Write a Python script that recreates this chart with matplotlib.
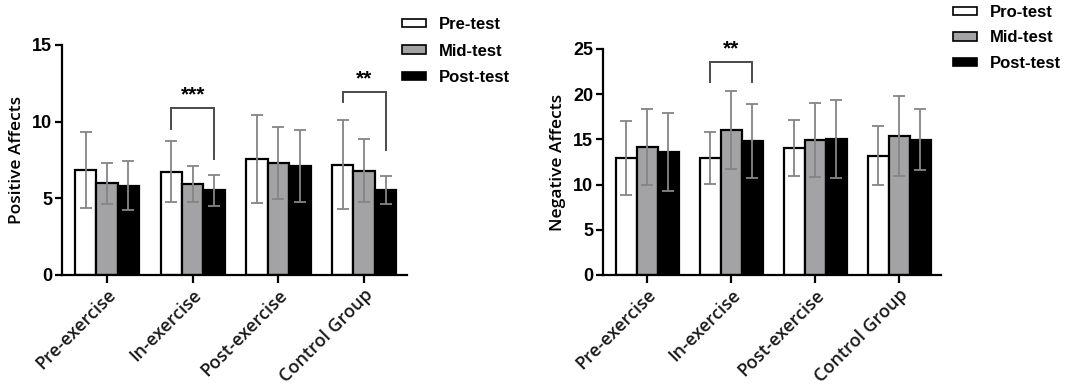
import matplotlib
matplotlib.use("Agg")
import matplotlib.pyplot as plt
import numpy as np
from matplotlib.patches import Patch

groups = ['Pre-exercise', 'In-exercise', 'Post-exercise', 'Control Group']

pos_pre = [6.85, 6.74, 7.54, 7.20]
pos_pre_sd = [2.50, 1.97, 2.87, 2.90]
pos_mid = [5.98, 5.93, 7.28, 6.80]
pos_mid_sd = [1.35, 1.20, 2.35, 2.05]
pos_post = [5.83, 5.52, 7.09, 5.54]
pos_post_sd = [1.60, 1.00, 2.35, 0.90]

neg_pre = [12.93, 12.96, 14.04, 13.20]
neg_pre_sd = [4.10, 2.90, 3.10, 3.30]
neg_mid = [14.20, 16.07, 14.96, 15.37]
neg_mid_sd = [4.20, 4.30, 4.10, 4.45]
neg_post = [13.60, 14.85, 15.07, 14.96]
neg_post_sd = [4.30, 4.10, 4.30, 3.40]

left_legend = ['Pre-test', 'Mid-test', 'Post-test']
right_legend = ['Pro-test', 'Mid-test', 'Post-test']

# brackets: (group index, top, left leg end, right leg end, label, label y)
pos_brackets = [(1, 10.9, 9.5, 7.55, '***', 11.75), (3, 11.93, 11.3, 8.15, '**', 12.8)]
neg_brackets = [(1, 23.6, 21.4, 21.4, '**', 25.0)]

colors = ['white', '#a3a3a6', 'black']
W = 0.25
TICKFONT = 'Open Sans'
BOLDFONT = 'Liberation Sans'

fig = plt.figure(figsize=(10.65, 3.89), dpi=100)
axL = fig.add_axes([0.0582, 0.2931, 0.3240, 0.5913])
axR = fig.add_axes([0.5662, 0.2931, 0.3174, 0.5810])


def draw(ax, means, sds, ymax, ylabel, brackets, legend_labels, leg_anchor, labelspacing):
    x = np.arange(len(groups))
    for i, (m, s) in enumerate(zip(means, sds)):
        xi = x + (i - 1) * W
        ax.bar(xi, m, width=W, color=colors[i], edgecolor='black', linewidth=1.6, zorder=2)
        ax.errorbar(xi, m, yerr=s, fmt='none', ecolor='#858585', elinewidth=1.3,
                    capsize=4.6, capthick=1.3, zorder=3)
    for g, top, l1, l2, lab, ly in brackets:
        x1 = g - W
        x2 = g + W
        ax.plot([x1, x1, x2, x2], [l1, top, top, l2], color='#4a4a4a', lw=1.4,
                solid_joinstyle='miter', zorder=4, clip_on=False)
        ax.text(g, ly, lab, ha='center', va='center', fontsize=15, fontweight='bold',
                family=BOLDFONT, color='black')
    ax.set_xlim(-0.525, 3.50)
    ax.set_ylim(0, ymax)
    ax.set_yticks(np.arange(0, ymax + 1, 5))
    ax.set_xticks(x)
    ax.set_xticklabels(groups, rotation=45, ha='right', rotation_mode='anchor',
                       fontsize=13, family=TICKFONT, fontweight='semibold', color='#1a1a1a')
    for t in ax.get_yticklabels():
        t.set_fontweight('bold')
        t.set_family(BOLDFONT)
        t.set_fontsize(13)
    ax.set_ylabel(ylabel, fontsize=12.5, family=TICKFONT, fontweight='semibold', labelpad=5)
    for sp in ['top', 'right']:
        ax.spines[sp].set_visible(False)
    for sp in ['left', 'bottom']:
        ax.spines[sp].set_linewidth(1.6)
    ax.tick_params(axis='y', length=5, width=1.6, pad=2)
    ax.tick_params(axis='x', length=6, width=1.6, pad=2)
    handles = [Patch(facecolor=c, edgecolor='black', linewidth=1.2) for c in colors]
    ax.legend(handles, legend_labels, loc='center left', bbox_to_anchor=leg_anchor,
              bbox_transform=fig.transFigure, frameon=False,
              prop={'family': BOLDFONT, 'weight': 'bold', 'size': 12},
              handlelength=1.45, handleheight=0.4, handletextpad=0.75,
              labelspacing=labelspacing, borderpad=0, borderaxespad=0)


draw(axL, [pos_pre, pos_mid, pos_post], [pos_pre_sd, pos_mid_sd, pos_post_sd], 15,
     'Positive Affects', pos_brackets, left_legend, (402 / 1065, 1 - 51 / 389), 0.7)
draw(axR, [neg_pre, neg_mid, neg_post], [neg_pre_sd, neg_mid_sd, neg_post_sd], 25,
     'Negative Affects', neg_brackets, right_legend, (953 / 1065, 1 - 38 / 389), 0.62)

fig.savefig('out.png', dpi=100)
